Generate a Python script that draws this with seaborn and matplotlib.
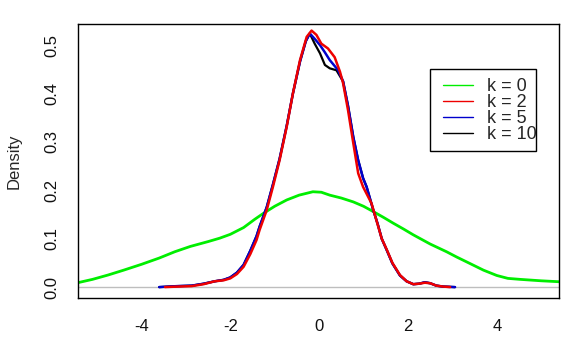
import matplotlib

matplotlib.use("Agg")
import matplotlib.pyplot as plt
import numpy as np
import pandas as pd
import seaborn as sns
from matplotlib.lines import Line2D
from matplotlib.patches import Rectangle

# density curves
x_k0 = [-5.5, -5.1, -4.75, -4.4, -4.0, -3.6, -3.25, -2.9, -2.5, -2.24, -2.0,
        -1.7, -1.45, -1.26, -1.0, -0.73, -0.45, -0.14, 0.05, 0.24, 0.5, 0.77,
        1.0, 1.22, 1.45, 1.67, 1.9, 2.12, 2.3, 2.5, 2.87, 3.1, 3.39, 3.7, 4.0,
        4.25, 4.52, 5.0, 5.42]
y_k0 = [0.0077, 0.016, 0.025, 0.035, 0.047, 0.06, 0.073, 0.084, 0.094, 0.101,
        0.109, 0.123, 0.14, 0.152, 0.167, 0.18, 0.19, 0.197, 0.196, 0.19,
        0.184, 0.176, 0.167, 0.156, 0.144, 0.132, 0.12, 0.108, 0.099, 0.089,
        0.073, 0.062, 0.049, 0.035, 0.024, 0.018, 0.016, 0.013, 0.011]

x_k2 = [-3.47, -3.2, -2.87, -2.6, -2.35, -2.15, -2.0, -1.85, -1.7, -1.55,
        -1.41, -1.34, -1.18, -1.04, -0.89, -0.73, -0.59, -0.43, -0.28, -0.17,
        -0.06, 0.05, 0.2, 0.35, 0.47, 0.54, 0.65, 0.77, 0.88, 0.99, 1.18,
        1.29, 1.41, 1.52, 1.65, 1.82, 1.97, 2.12, 2.25, 2.38, 2.5, 2.64, 2.8,
        2.95]
y_k2 = [0.0, 0.001, 0.002, 0.006, 0.012, 0.014, 0.018, 0.027, 0.042, 0.068,
        0.097, 0.118, 0.159, 0.207, 0.262, 0.331, 0.40, 0.469, 0.517, 0.530,
        0.521, 0.503, 0.493, 0.475, 0.445, 0.421, 0.366, 0.297, 0.235, 0.207,
        0.173, 0.138, 0.10, 0.078, 0.05, 0.025, 0.012, 0.006, 0.007, 0.009,
        0.008, 0.003, 0.001, 0.0]

x_k5 = [-3.6, -3.2, -2.87, -2.6, -2.35, -2.15, -2.0, -1.85, -1.7, -1.55,
        -1.41, -1.34, -1.18, -1.04, -0.89, -0.73, -0.59, -0.43, -0.3, -0.21,
        -0.1, 0.02, 0.13, 0.24, 0.43, 0.54, 0.65, 0.77, 0.88, 0.99, 1.07,
        1.22, 1.32, 1.41, 1.52, 1.65, 1.82, 1.97, 2.12, 2.25, 2.38, 2.5, 2.64,
        2.8, 3.06]
y_k5 = [0.0, 0.002, 0.003, 0.007, 0.012, 0.015, 0.02, 0.03, 0.046, 0.075,
        0.105, 0.125, 0.165, 0.212, 0.265, 0.333, 0.40, 0.466, 0.508, 0.524,
        0.513, 0.50, 0.485, 0.469, 0.448, 0.425, 0.375, 0.31, 0.262, 0.225,
        0.207, 0.159, 0.13, 0.10, 0.077, 0.049, 0.024, 0.012, 0.006, 0.007,
        0.01, 0.008, 0.003, 0.001, 0.0]

x_k10 = [-3.6, -3.2, -2.87, -2.6, -2.35, -2.15, -2.0, -1.85, -1.7, -1.55,
         -1.41, -1.34, -1.18, -1.04, -0.89, -0.73, -0.59, -0.43, -0.3, -0.21,
         -0.1, 0.02, 0.13, 0.24, 0.39, 0.54, 0.65, 0.77, 0.88, 0.99, 1.07,
         1.22, 1.32, 1.41, 1.52, 1.65, 1.82, 1.97, 2.12, 2.25, 2.38, 2.5,
         2.64, 2.8, 3.06]
y_k10 = [0.0, 0.002, 0.003, 0.007, 0.012, 0.015, 0.02, 0.03, 0.046, 0.075,
         0.105, 0.125, 0.165, 0.212, 0.265, 0.333, 0.40, 0.466, 0.508, 0.524,
         0.503, 0.483, 0.459, 0.452, 0.448, 0.425, 0.375, 0.31, 0.262, 0.225,
         0.207, 0.159, 0.13, 0.10, 0.077, 0.049, 0.024, 0.012, 0.006, 0.007,
         0.01, 0.008, 0.003, 0.001, 0.0]

labels = ["k = 0", "k = 2", "k = 5", "k = 10"]
colors = ["#00ee00", "#ee0000", "#0000cc", "#000000"]

sns.set_style("white")
plt.rcParams["font.family"] = ["Liberation Sans", "DejaVu Sans"]
plt.rcParams["axes.unicode_minus"] = False

fig = plt.figure(figsize=(5.72, 3.47), dpi=100)
ax = fig.add_axes([0.137, 0.140, 0.841, 0.790])

ax.axhline(0, color="#bebebe", lw=1, zorder=1)

curves = [(x_k0, y_k0, colors[0], 2.0), (x_k10, y_k10, colors[3], 1.6),
          (x_k5, y_k5, colors[2], 1.8), (x_k2, y_k2, colors[1], 1.8)]
for xs, ys, c, lw in curves:
    sns.lineplot(x=xs, y=ys, color=c, lw=lw, sort=False, ax=ax, zorder=2)

ax.set_xlim(-5.42, 5.41)
ax.set_ylim(-0.0234, 0.543)
ax.set_xticks([-4, -2, 0, 2, 4])
ax.set_yticks([0.0, 0.1, 0.2, 0.3, 0.4, 0.5])
ax.set_yticklabels(["0.0", "0.1", "0.2", "0.3", "0.4", "0.5"], rotation=90, va="center")
ax.tick_params(axis="both", direction="out", length=6, width=1, color="black",
               labelsize=12, labelcolor="#111111")
ax.tick_params(axis="x", pad=9)
ax.tick_params(axis="y", pad=8)
for s in ax.spines.values():
    s.set_color("black")
    s.set_linewidth(1)

ax.set_xlabel("")
ax.set_ylabel("Density", fontsize=12, labelpad=16)

# legend text sits in a fixed box, "k = 10" runs past its right edge like the original
handles = [Line2D([0], [0], color=c, lw=1) for c in colors]
leg = ax.legend(handles, labels, loc="upper left", bbox_to_anchor=(443 / 572, 1 - 78 / 347),
                bbox_transform=fig.transFigure, fontsize=13, frameon=False,
                labelspacing=-0.05, handlelength=1.66, handletextpad=0.76,
                borderpad=0, borderaxespad=0)
fig.patches.append(Rectangle((430 / 572, 1 - 151 / 347), 106 / 572, 82 / 347,
                             transform=fig.transFigure, fill=False,
                             edgecolor="black", lw=1, zorder=5))

fig.savefig("out.png", dpi=100)
